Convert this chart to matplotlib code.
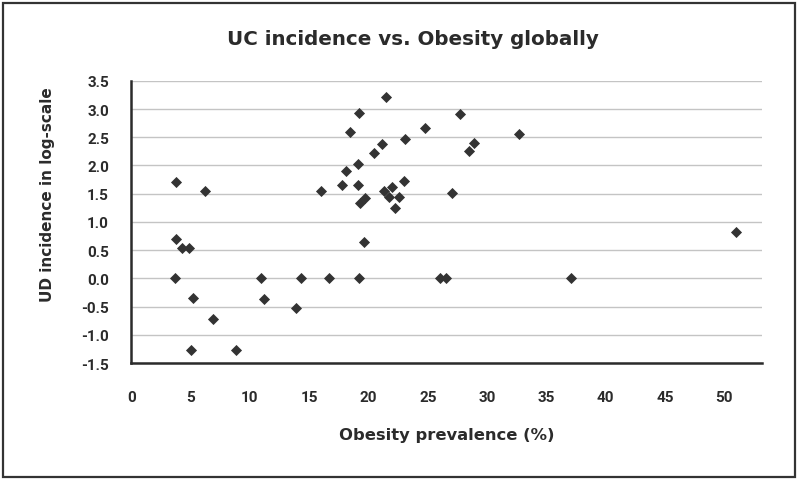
import matplotlib.pyplot as plt
from matplotlib.patches import Rectangle

# Obesity prevalence (%) and UC incidence (log scale)
obesity = [3.8, 6.2, 3.8, 4.3, 4.9, 3.7, 5.25, 6.9, 5.0, 8.8,
           10.9, 11.2, 13.9, 14.3, 16.7, 19.2, 16.0, 17.8, 18.1, 19.1,
           19.1, 18.4, 19.2, 19.6, 19.3, 19.7, 20.45, 21.1, 21.5, 21.3,
           21.7, 22.0, 22.6, 22.2, 23.0, 23.1, 24.8, 27.0, 27.7, 28.5,
           28.9, 32.7, 26.0, 26.5, 37.1, 51.0]
uc_log = [1.70, 1.55, 0.69, 0.54, 0.54, 0.0, -0.34, -0.71, -1.26, -1.26,
          0.0, -0.36, -0.53, 0.0, 0.0, 0.0, 1.55, 1.66, 1.90, 2.02,
          1.65, 2.60, 2.93, 0.65, 1.33, 1.42, 2.22, 2.38, 3.21, 1.54,
          1.45, 1.62, 1.44, 1.24, 1.73, 2.46, 2.66, 1.51, 2.91, 2.25,
          2.39, 2.56, 0.0, 0.0, 0.0, 0.82]

xticks = [0, 5, 10, 15, 20, 25, 30, 35, 40, 45, 50]
yticks = [-1.5, -1.0, -0.5, 0.0, 0.5, 1.0, 1.5, 2.0, 2.5, 3.0, 3.5]

plt.rcParams['font.family'] = ['Roboto', 'DejaVu Sans']
plt.rcParams['font.weight'] = 'bold'
wide = ['DejaVu Sans']

fig = plt.figure(figsize=(8, 4.81), dpi=100)
ax = fig.add_axes([0.164, 0.243, 0.789, 0.587])

ax.scatter(obesity, uc_log, marker='D', s=32, color='#333333', zorder=3, linewidths=0)

ax.set_xlim(0, 53.2)
ax.set_ylim(-1.5, 3.5)
ax.set_xticks(xticks)
ax.set_yticks(yticks)
ax.set_yticklabels([f'{v:.1f}' for v in yticks])
ax.tick_params(axis='both', length=0, labelsize=11, colors='#2b2b2b')
ax.tick_params(axis='x', pad=19)
ax.tick_params(axis='y', pad=16)
for lbl in ax.get_xticklabels() + ax.get_yticklabels():
    lbl.set_fontweight('bold')

ax.grid(axis='y', color='#c4c4c4', linewidth=1.0)
ax.set_axisbelow(True)
for s in ['top', 'right']:
    ax.spines[s].set_visible(False)
for s in ['left', 'bottom']:
    ax.spines[s].set_color('#2b2b2b')
    ax.spines[s].set_linewidth(1.8)

ax.set_xlabel('Obesity prevalence (%)', fontsize=11.8, fontweight='bold',
              family=wide, color='#2b2b2b', labelpad=17)
fig.text(0.059, 1 - 195 / 481, 'UD incidence in log-scale', rotation=90,
         ha='center', va='center', fontsize=11, fontweight='bold',
         family=wide, color='#2b2b2b')
fig.text(0.516, 0.917, 'UC incidence vs. Obesity globally', ha='center', va='center',
         fontsize=14.3, fontweight='bold', family=wide, color='#2b2b2b')

fig.patches.append(Rectangle((0.004, 0.006), 0.99, 0.986, transform=fig.transFigure,
                             fill=False, edgecolor='#333333', linewidth=1.6))

fig.savefig('out.png', dpi=100)
